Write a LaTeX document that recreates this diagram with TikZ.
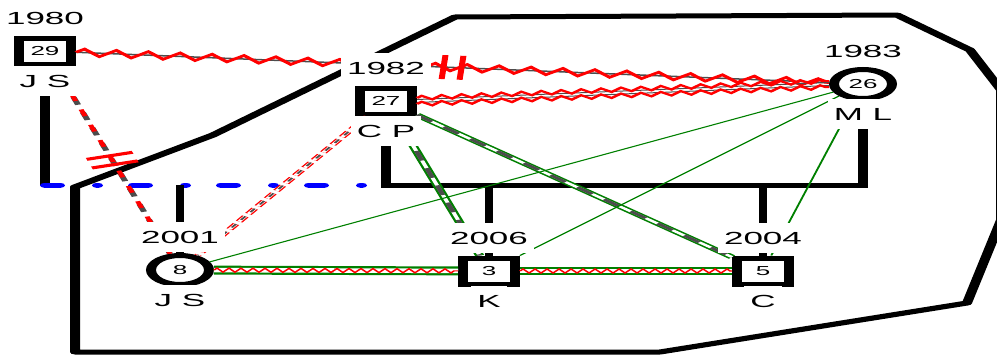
\documentclass[tikz,border=0pt]{standalone}
\usepackage{fontspec}
\setmainfont{Liberation Sans}
\usetikzlibrary{positioning, decorations.pathmorphing, decorations.markings}

\definecolor{tiegray}{gray}{0.3}
\definecolor{tiegreen}{rgb}{0,0.5,0}

\tikzset{
	male/.style={rectangle, draw, line width=5pt, fill=white, minimum size=26pt, inner sep=0pt, font=\fontsize{13}{13}\selectfont},
	female/.style={circle, draw, line width=5pt, fill=white, minimum size=29pt, inner sep=0pt, font=\fontsize{13}{13}\selectfont},
	tag/.style={fill=white, inner xsep=3pt, inner ysep=9pt, text height=12pt, text depth=0pt, font=\fontsize{17.5}{17.5}\selectfont},
	parents/.style={line width=5pt},
	child/.style={line width=4pt},
	union/.style={blue, line width=5pt, line cap=round, dash pattern=on 7.5pt off 18.5pt on 0.5pt off 17.5pt},
	household/.style={line width=5pt, line join=round},
	cutoff/.style={postaction={decorate, decoration={markings, mark=at position 0.5 with {\draw[red, solid, line width=3pt] (-4.5pt,-12pt) -- (-4.5pt,12pt) (4.5pt,-12pt) -- (4.5pt,12pt);}}}},
	redzig/.style={red, line width=2.4pt, decorate, decoration={zigzag, segment length=16pt, amplitude=3.5pt}},
	redzig2/.style={red, line width=2pt, decorate, decoration={zigzag, segment length=10pt, amplitude=2pt}},
	reddash/.style={draw=red, line width=0.9pt, double=white, double distance=2pt, dash pattern=on 6pt off 3pt},
	graydash/.style={tiegray, line width=2.4pt, dash pattern=on 10pt off 8pt},
	greenpair/.style={draw=tiegreen, line width=1.3pt, double=white, double distance=2pt},
	greenthin/.style={tiegreen, line width=1pt},
	greenband/.style={draw=tiegreen, line width=2.2pt, double=white, double distance=4.5pt},
	greenzig/.style={red, line width=1.1pt, decorate, decoration={zigzag, segment length=6pt, amplitude=2pt}}
}

\begin{document}
\begin{tikzpicture}[x=1pt, y=-1pt, node distance=33pt, on grid]
	\useasboundingbox (0,0) rectangle (997,356);
	\begin{scope}[x=0.5pt, transform canvas={xscale=2}]
		\clip (0,0) rectangle (997,356);
		\draw[household] (75,352) -- (75,187) -- (213,135) -- (455,17) -- (897,15) -- (970,50) -- (1001,90) -- (1001,220) -- (967,303) -- (660,352) -- cycle;

		\node[male] (29) at (45,51) {29};
		\node[male] (27) at (386,101) {27};
		\node[female] (26) at (863,84) {26};
		\node[female] (8) at (180,270) {8};
		\node[male] (3) at (489,271) {3};
		\node[male] (5) at (763,271) {5};

		\coordinate (bar) at (0,185);
		\draw[parents] (29) -- (29 |- bar);
		\draw[parents] (27) -- (27 |- bar) -- (26 |- bar) -- (26);
		\draw[union] (29 |- bar) -- (27 |- bar);
		\path[child]
			(8 |- bar) edge (8)
			(3 |- bar) edge (3)
			(5 |- bar) edge (5);

		\draw[tiegray, line width=1.5pt] (29) -- (26);
		\draw[redzig] (29) -- (26);
		\path[cutoff] (29) -- (26);

		\draw[tiegray, line width=1pt] ([yshift=1.5pt]27.east) -- ([yshift=1.5pt]26.west);
		\draw[tiegray, line width=1pt] ([yshift=-1.5pt]27.east) -- ([yshift=-1.5pt]26.west);
		\draw[redzig2] ([yshift=3pt]27.east) -- ([yshift=3pt]26.west);
		\draw[redzig2] ([yshift=-3pt]27.east) -- ([yshift=-3pt]26.west);

		\draw[tiegray, line width=3pt, dash pattern=on 8pt off 8pt] (29) -- (8);
		\draw[red, line width=2.5pt, dash pattern=on 7pt off 9pt, dash phase=3pt, cutoff] (29) -- (8);

		\draw[reddash] (27) -- (8);
		\draw[tiegray, line width=1.2pt, dash pattern=on 4pt off 5pt] (27) -- (8);

		\draw[greenpair] (27) -- (3);
		\draw[greenpair] (27) -- (5);
		\draw[graydash] (27) -- (3);
		\draw[graydash] (27) -- (5);

		\path[greenthin]
			(26) edge (8)
			(26) edge (3)
			(26) edge (5);

		\draw[greenband] (8) -- (3);
		\draw[greenband] (3) -- (5);
		\draw[greenzig] (8) -- (3);
		\draw[greenzig] (3) -- (5);

		\node[tag] (y29) [above=of 29] {1980};
		\node[tag] (n29) [below=30pt of 29] {J S};
		\node[tag] (y27) [above=of 27] {1982};
		\node[tag] (n27) [below=30pt of 27] {C P};
		\node[tag] (y26) [above=of 26] {1983};
		\node[tag] (n26) [below=30pt of 26] {M L};
		\node[tag] (y8) [above=of 8] {2001};
		\node[tag] (n8) [below=30pt of 8] {J S};
		\node[tag] (y3) [above=of 3] {2006};
		\node[tag] (n3) [below=30pt of 3] {K};
		\node[tag] (y5) [above=of 5] {2004};
		\node[tag] (n5) [below=30pt of 5] {C};
	\end{scope}
\end{tikzpicture}
\end{document}
